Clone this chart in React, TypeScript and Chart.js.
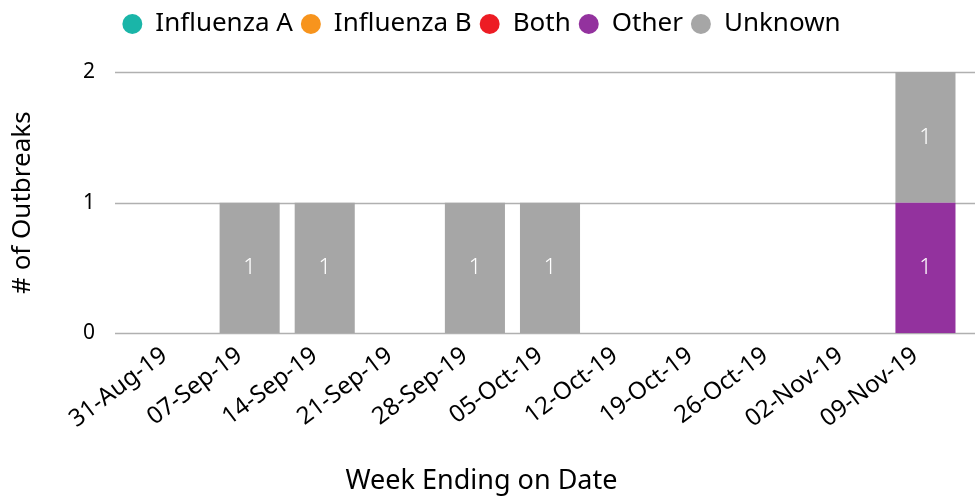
import React, { useEffect, useRef } from "react";
import { Chart, registerables } from "chart.js";

Chart.register(...registerables);

const categories = [
  "31-Aug-19", "07-Sep-19", "14-Sep-19", "21-Sep-19", "28-Sep-19", "05-Oct-19",
  "12-Oct-19", "19-Oct-19", "26-Oct-19", "02-Nov-19", "09-Nov-19",
];
const influenzaA = [0, 0, 0, 0, 0, 0, 0, 0, 0, 0, 0];
const influenzaB = [0, 0, 0, 0, 0, 0, 0, 0, 0, 0, 0];
const both = [0, 0, 0, 0, 0, 0, 0, 0, 0, 0, 0];
const other = [0, 0, 0, 0, 0, 0, 0, 0, 0, 0, 1];
const unknown = [0, 1, 1, 0, 1, 1, 0, 0, 0, 0, 1];
const yTicks = [0, 1, 2];

const FONT = "'Noto Sans', 'Open Sans', sans-serif";

const legendSpace = {
  id: "legendSpace",
  beforeInit(chart: any) {
    const orig = chart.legend.fit;
    chart.legend.fit = function () {
      orig.bind(chart.legend)();
      this.height = 69;
    };
  },
};

const gridPlugin = {
  id: "customGrid",
  beforeDatasetsDraw(chart: any) {
    const { ctx, chartArea, scales } = chart;
    const y = scales.y;
    ctx.save();
    ctx.strokeStyle = "#b0b0b0";
    ctx.lineWidth = 1.5;
    yTicks.forEach((v) => {
      const py = Math.round(y.getPixelForValue(v)) + 0.5;
      ctx.beginPath();
      ctx.moveTo(chartArea.left - 22, py);
      ctx.lineTo(chartArea.right + 12, py);
      ctx.stroke();
    });
    ctx.restore();
  },
};

const labelPlugin = {
  id: "barLabels",
  afterDatasetsDraw(chart: any) {
    const { ctx } = chart;
    ctx.save();
    ctx.fillStyle = "#ffffff";
    ctx.font = `300 22px ${FONT}`;
    ctx.textAlign = "center";
    ctx.textBaseline = "middle";
    chart.data.datasets.forEach((ds: any, i: number) => {
      const meta = chart.getDatasetMeta(i);
      meta.data.forEach((el: any, j: number) => {
        const v = ds.data[j];
        if (!v) return;
        const { x, y, base } = el.getProps(["x", "y", "base"], true);
        ctx.fillText(String(v), x, (y + base) / 2);
      });
    });
    ctx.restore();
  },
};

export default function App() {
  const ref = useRef<HTMLCanvasElement>(null);
  useEffect(() => {
    document.body.style.margin = "0";
    const chart = new Chart(ref.current!, {
      type: "bar",
      data: {
        labels: categories,
        datasets: [
          { label: "Influenza A", data: influenzaA, backgroundColor: "#1ab5a8" },
          { label: "Influenza B", data: influenzaB, backgroundColor: "#f7941d" },
          { label: "Both", data: both, backgroundColor: "#ed1c24" },
          { label: "Other", data: other, backgroundColor: "#93329e" },
          { label: "Unknown", data: unknown, backgroundColor: "#a6a6a6" },
        ],
      },
      options: {
        responsive: false,
        animation: false,
        layout: { padding: { top: 3, right: 12, left: 0, bottom: 0 } },
        datasets: { bar: { barPercentage: 0.8, categoryPercentage: 1 } },
        scales: {
          x: {
            stacked: true,
            offset: true,
            grid: { display: false },
            border: { display: false },
            ticks: {
              color: "#000",
              font: { family: FONT, size: 24 },
              minRotation: 37,
              maxRotation: 37,
              padding: 0,
              labelOffset: -10,
              autoSkip: false,
            },
            afterFit: (s: any) => {
              s.height = 123;
            },
          },
          y: {
            stacked: true,
            min: 0,
            max: 2,
            grid: { display: false },
            border: { display: false },
            ticks: {
              stepSize: 1,
              color: "#000",
              font: { family: FONT, size: 21 },
              padding: 34,
            },
            title: {
              display: true,
              text: "# of Outbreaks",
              color: "#000",
              font: { family: FONT, size: 26 },
              padding: { top: 7, bottom: 0 },
            },
            afterFit: (s: any) => {
              s.width = 137;
            },
          },
        },
        plugins: {
          legend: {
            position: "top",
            labels: {
              usePointStyle: true,
              pointStyle: "circle",
              pointStyleWidth: 20,
              boxHeight: 14,
              padding: 8,
              color: "#000",
              font: { family: FONT, size: 26 },
            },
          },
          title: {
            display: true,
            position: "bottom",
            text: "Week Ending on Date",
            color: "#000",
            font: { family: FONT, size: 27, weight: "normal", lineHeight: 1.1 },
            padding: { top: 10, bottom: 0 },
          },
          tooltip: { enabled: false },
        },
      },
      plugins: [legendSpace, gridPlugin, labelPlugin],
    } as any);
    return () => chart.destroy();
  }, []);
  return <canvas ref={ref} width={975} height={496} />;
}
